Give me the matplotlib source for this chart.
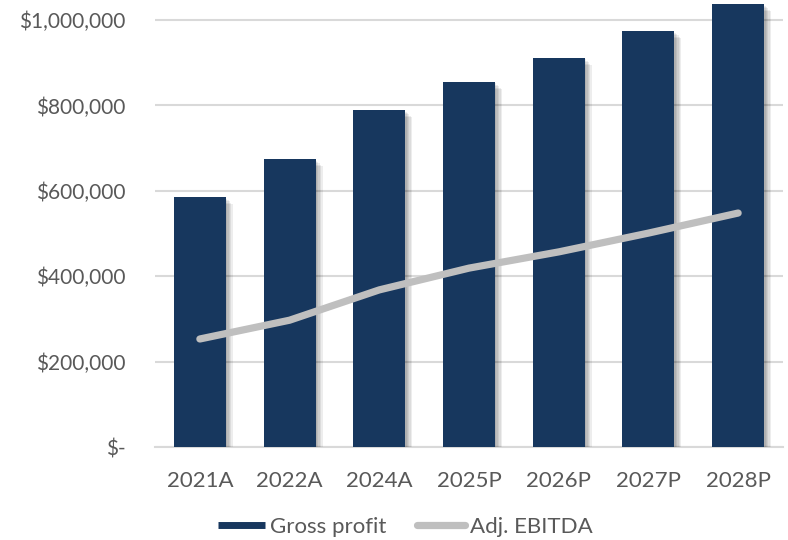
import matplotlib.pyplot as plt
import matplotlib.patheffects as pe
from matplotlib.lines import Line2D
from matplotlib.ticker import FuncFormatter
import numpy as np

plt.rcParams['font.family'] = ['Lato', 'DejaVu Sans']

years = ["2021A", "2022A", "2024A", "2025P", "2026P", "2027P", "2028P"]
gross_profit = [585000, 674000, 789000, 855000, 911000, 974000, 1037000]
adj_ebitda = [253000, 297000, 368000, 419000, 457000, 501000, 548000]

bar_color = "#17375E"
line_color = "#BFBFBF"
text_color = "#595959"

fig = plt.figure(figsize=(7.88, 5.4), dpi=100)
ax = fig.add_axes([155 / 788, 1 - 447 / 540, 628 / 788, 447 / 540])

x = np.arange(len(years))

# soft shadow: a few offset layers
shadow = [pe.SimplePatchShadow(offset=(d, -d), shadow_rgbFace="black", alpha=0.07)
          for d in (1, 2, 3, 4, 5)]
bars = ax.bar(x, gross_profit, width=0.58, color=bar_color, zorder=3)
for b in bars:
    b.set_path_effects(shadow + [pe.Normal()])

ax.plot(x, adj_ebitda, color=line_color, linewidth=5.2, solid_capstyle="round",
        zorder=4)

ax.set_xlim(-0.5, len(years) - 0.5)
ax.set_ylim(0, 1047000)
ax.set_yticks(np.arange(0, 1000001, 200000))
ax.yaxis.set_major_formatter(FuncFormatter(lambda v, p: "$-" if v == 0 else f"${v:,.0f}"))
ax.set_xticks(x)
ax.set_xticklabels(years)

ax.grid(axis="y", color="#D9D9D9", linewidth=1.5, zorder=0)
for s in ("top", "right", "left"):
    ax.spines[s].set_visible(False)
ax.spines["bottom"].set_color("#D9D9D9")
ax.spines["bottom"].set_linewidth(1.5)
ax.tick_params(axis="both", length=0, colors=text_color)
ax.tick_params(axis="y", pad=21, labelsize=15)
ax.tick_params(axis="x", pad=17, labelsize=16)

handles = [Line2D([], [], color=bar_color, linewidth=5, solid_capstyle="butt"),
           Line2D([], [], color=line_color, linewidth=5.2, solid_capstyle="round")]
leg = fig.legend(handles, ["Gross profit", "Adj. EBITDA"], loc="center",
                 bbox_to_anchor=(405 / 788, 1 - 527 / 540), ncol=2,
                 frameon=False, fontsize=16, handlelength=2.15, columnspacing=1.4,
                 handletextpad=0.2, labelcolor=text_color)

fig.savefig("out.png", dpi=100)
